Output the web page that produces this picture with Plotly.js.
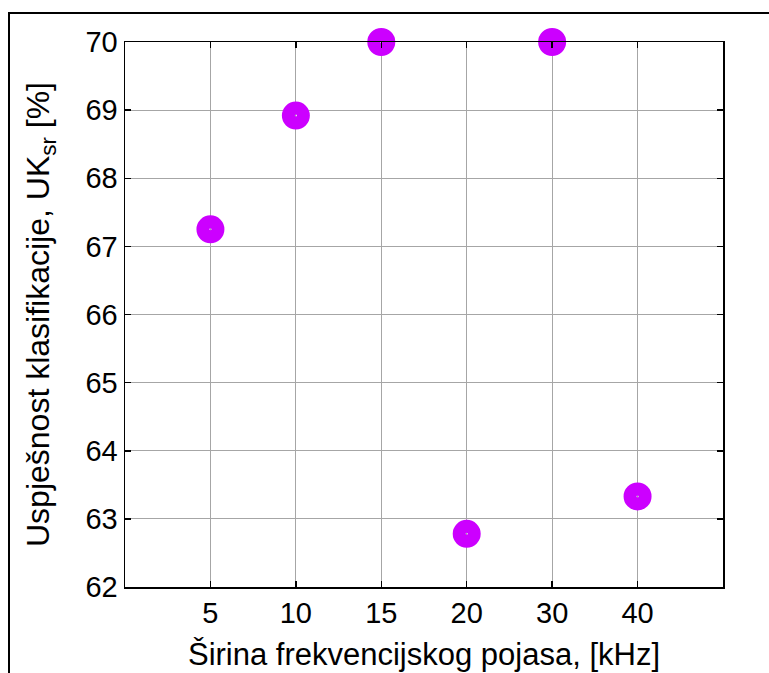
<!DOCTYPE html>
<html>
<head>
<meta charset="utf-8">
<script src="https://cdn.plot.ly/plotly-3.0.1.min.js"></script>
<style>
  html, body { margin: 0; padding: 0; background: #fff; }
  #wrap { position: relative; width: 769px; height: 673px; overflow: hidden; }
  #chart { width: 769px; height: 673px; }
  #frame { position: absolute; left: 8px; top: 12px; width: 900px; height: 900px;
           border-top: 2px solid #000; border-left: 2px solid #000; pointer-events: none; }
</style>
</head>
<body>
<div id="wrap">
  <div id="chart"></div>
  <div id="frame"></div>
</div>
<script>
const categories = ["5", "10", "15", "20", "30", "40"];
const accuracy = [67.25, 68.92, 70.0, 62.78, 70.0, 63.33];
const yTicks = [62, 63, 64, 65, 66, 67, 68, 69, 70];
const xTitle = "Širina frekvencijskog pojasa, [kHz]";
const yTitle = "Uspješnost klasifikacije, UK<sub>sr</sub> [%]";

const FONT = "Liberation Sans, Arial, sans-serif";

const trace = {
  x: categories,
  y: accuracy,
  type: "scatter",
  mode: "markers",
  cliponaxis: false,
  marker: {
    symbol: "circle-open",
    size: 15,
    color: "#cc00ff",
    line: { color: "#cc00ff", width: 13 }
  },
  hoverinfo: "x+y"
};

const axisCommon = {
  showline: true,
  linecolor: "#000",
  linewidth: 1.5,
  mirror: "ticks",
  ticks: "inside",
  ticklen: 6,
  tickwidth: 1.5,
  tickcolor: "#000",
  showgrid: true,
  gridcolor: "#a6a6a6",
  gridwidth: 1,
  zeroline: false,
  tickfont: { family: FONT, size: 29, color: "#000" }
};

const layout = {
  width: 769,
  height: 673,
  margin: { l: 125, r: 46, t: 42, b: 86 },
  paper_bgcolor: "#fff",
  plot_bgcolor: "#fff",
  showlegend: false,
  xaxis: Object.assign({}, axisCommon, {
    type: "category",
    range: [-1, 6],
    categoryorder: "array",
    categoryarray: categories,
    title: { text: xTitle, font: { family: FONT, size: 31, color: "#000" }, standoff: 15 }
  }),
  yaxis: Object.assign({}, axisCommon, {
    range: [62, 70],
    tickvals: yTicks,
    ticktext: yTicks.map(String),
    title: { text: yTitle, font: { family: FONT, size: 32, color: "#000" }, standoff: 26 }
  })
};

Plotly.newPlot("chart", [trace], layout, { displayModeBar: false, staticPlot: true });
</script>
</body>
</html>
